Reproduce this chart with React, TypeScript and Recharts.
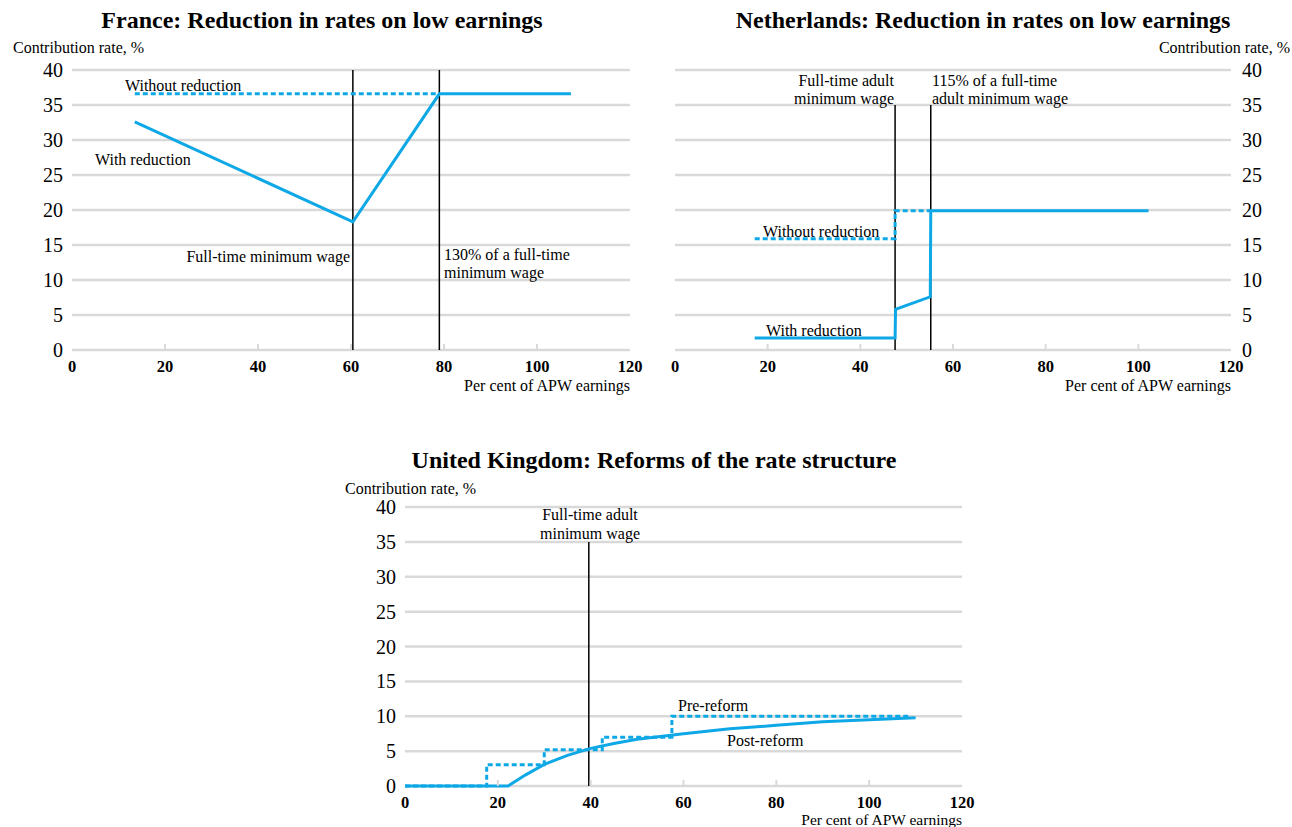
import React from "react";
import { LineChart, Line, XAxis, YAxis, CartesianGrid, ReferenceLine } from "recharts";

const SERIF = "'Liberation Serif', 'Times New Roman', serif";
const BLUE = "#0EA8E6";
const GRID = "#d9d9d9";

const xTicks = [0, 20, 40, 60, 80, 100, 120];
const yTicks = [0, 5, 10, 15, 20, 25, 30, 35, 40];

// France
const frWith = [
  { x: 13.5, y: 32.6 },
  { x: 60.4, y: 18.3 },
  { x: 79, y: 36.6 },
  { x: 107.3, y: 36.6 },
];
const frWithout = [
  { x: 13.5, y: 36.6 },
  { x: 79, y: 36.6 },
];
const frMinWage = 60.4;
const fr130 = 79;

// Netherlands
const nlWith = [
  { x: 17.2, y: 1.7 },
  { x: 47.5, y: 1.7 },
  { x: 47.6, y: 5.8 },
  { x: 55.1, y: 7.6 },
  { x: 55.2, y: 19.9 },
  { x: 102.2, y: 19.9 },
];
const nlWithout = [
  { x: 17.2, y: 15.9 },
  { x: 47.5, y: 15.9 },
  { x: 47.5, y: 19.9 },
  { x: 55.2, y: 19.9 },
];
const nlMinWage = 47.5;
const nl115 = 55.2;

// United Kingdom
const ukPost = [
  { x: 0, y: 0 },
  { x: 22.2, y: 0 },
  { x: 26, y: 1.6 },
  { x: 30, y: 3.1 },
  { x: 35, y: 4.4 },
  { x: 40, y: 5.4 },
  { x: 45, y: 6.1 },
  { x: 50, y: 6.7 },
  { x: 55, y: 7.1 },
  { x: 60, y: 7.5 },
  { x: 70, y: 8.2 },
  { x: 80, y: 8.7 },
  { x: 90, y: 9.2 },
  { x: 100, y: 9.5 },
  { x: 110, y: 9.8 },
];
const ukPre = [
  { x: 0, y: 0 },
  { x: 17.6, y: 0 },
  { x: 17.6, y: 3.05 },
  { x: 30, y: 3.05 },
  { x: 30, y: 5.2 },
  { x: 42.5, y: 5.2 },
  { x: 42.5, y: 7.0 },
  { x: 57.5, y: 7.0 },
  { x: 57.5, y: 10.0 },
  { x: 108.8, y: 10.0 },
];
const ukMinWage = 39.6;

const XTick = (props: any) => {
  const { x, y, payload } = props;
  const v = payload.value;
  return (
    <g>
      {v !== 0 && v !== 120 && (
        <line x1={x} x2={x} y1={y - 6} y2={y} stroke={GRID} strokeWidth={2} />
      )}
      <text x={x} y={y + 22} textAnchor="middle" fontWeight="bold" fontSize={16.5} fontFamily={SERIF} fill="#000">
        {v}
      </text>
    </g>
  );
};

type Series = { data: { x: number; y: number }[]; dashed?: boolean };
type Ref = { x: number; top: number };

function Panel({ left, top, width, height, margin, right, series, refs }: {
  left: number; top: number; width: number; height: number;
  margin: any; right?: boolean; series: Series[]; refs: Ref[];
}) {
  return (
    <div style={{ position: "absolute", left, top }}>
      <LineChart width={width} height={height} margin={margin}>
        <CartesianGrid vertical={false} stroke={GRID} strokeWidth={2.5} />
        <XAxis
          type="number"
          dataKey="x"
          domain={[0, 120]}
          ticks={xTicks}
          axisLine={false}
          tickLine={false}
          tickSize={0}
          tickMargin={0}
          height={30}
          tick={<XTick />}
          interval={0}
        />
        <YAxis
          type="number"
          dataKey="y"
          domain={[0, 40]}
          ticks={yTicks}
          orientation={right ? "right" : "left"}
          axisLine={false}
          tickLine={false}
          tickSize={0}
          tickMargin={right ? 11 : 9}
          width={40}
          interval={0}
          tick={{ fontSize: 20, fill: "#000", fontFamily: SERIF }}
        />
        {refs.map((r, i) => (
          <ReferenceLine
            key={i}
            segment={[{ x: r.x, y: 0 }, { x: r.x, y: r.top }]}
            stroke="#000"
            strokeWidth={1.5}
          />
        ))}
        {series.map((s, i) => (
          <Line
            key={i}
            data={s.data}
            dataKey="y"
            type="linear"
            stroke={BLUE}
            strokeWidth={3}
            strokeDasharray={s.dashed ? "5 3" : undefined}
            dot={false}
            activeDot={false}
            isAnimationActive={false}
          />
        ))}
      </LineChart>
    </div>
  );
}

function Note({ x, y, text, align = "left", size = 16, bold = false, lh }: {
  x: number; y: number; text: string; align?: "left" | "right" | "center"; size?: number; bold?: boolean; lh?: number;
}) {
  const w = 500;
  const h = lh ?? Math.round(size * 1.05);
  const l = align === "left" ? x : align === "right" ? x - w : x - w / 2;
  return (
    <div
      style={{
        position: "absolute",
        left: l,
        top: y - h / 2,
        width: w,
        lineHeight: `${h}px`,
        textAlign: align,
        fontSize: size,
        fontWeight: bold ? "bold" : "normal",
        fontFamily: SERIF,
        color: "#000",
        whiteSpace: "nowrap",
      }}
    >
      {text}
    </div>
  );
}

export default function App() {
  return (
    <div style={{ position: "absolute", left: 0, top: 0, width: 1292, height: 827, background: "#fff", overflow: "hidden" }}>
      {/* France */}
      <Panel
        left={0}
        top={0}
        width={650}
        height={400}
        margin={{ top: 70, left: 32, right: 20, bottom: 20 }}
        series={[{ data: frWithout, dashed: true }, { data: frWith }]}
        refs={[{ x: frMinWage, top: 40 }, { x: fr130, top: 40 }]}
      />
      <Note x={322} y={20} text="France: Reduction in rates on low earnings" align="center" size={24} bold />
      <Note x={13} y={47} text="Contribution rate, %" />
      <Note x={630} y={385} text="Per cent of APW earnings" align="right" />
      <Note x={125} y={85} text="Without reduction" />
      <Note x={95} y={159} text="With reduction" />
      <Note x={350} y={256} text="Full-time minimum wage" align="right" />
      <Note x={444} y={254} text="130% of a full-time" />
      <Note x={444} y={272} text="minimum wage" />

      {/* Netherlands */}
      <Panel
        left={650}
        top={0}
        width={642}
        height={400}
        right
        margin={{ top: 70, left: 25, right: 21, bottom: 20 }}
        series={[{ data: nlWithout, dashed: true }, { data: nlWith }]}
        refs={[{ x: nlMinWage, top: 35 }, { x: nl115, top: 35 }]}
      />
      <Note x={983} y={20} text="Netherlands: Reduction in rates on low earnings" align="center" size={24} bold />
      <Note x={1290} y={47} text="Contribution rate, %" align="right" />
      <Note x={1231} y={385} text="Per cent of APW earnings" align="right" />
      <Note x={894} y={80} text="Full-time adult" align="right" />
      <Note x={894} y={98} text="minimum wage" align="right" />
      <Note x={932} y={80} text="115% of a full-time" />
      <Note x={932} y={98} text="adult minimum wage" />
      <Note x={763} y={231} text="Without reduction" />
      <Note x={766} y={330} text="With reduction" />

      {/* United Kingdom */}
      <Panel
        left={330}
        top={438}
        width={650}
        height={387}
        margin={{ top: 69, left: 35, right: 18, bottom: 9 }}
        series={[{ data: ukPre, dashed: true }, { data: ukPost }]}
        refs={[{ x: ukMinWage, top: 35 }]}
      />
      <Note x={654} y={460} text="United Kingdom: Reforms of the rate structure" align="center" size={24} bold />
      <Note x={345} y={488} text="Contribution rate, %" />
      <Note x={962} y={819.5} text="Per cent of APW earnings" align="right" size={15.5} lh={15} />
      <Note x={590} y={514} text="Full-time adult" align="center" />
      <Note x={590} y={533} text="minimum wage" align="center" />
      <Note x={678} y={705} text="Pre-reform" />
      <Note x={727} y={740} text="Post-reform" />
    </div>
  );
}
